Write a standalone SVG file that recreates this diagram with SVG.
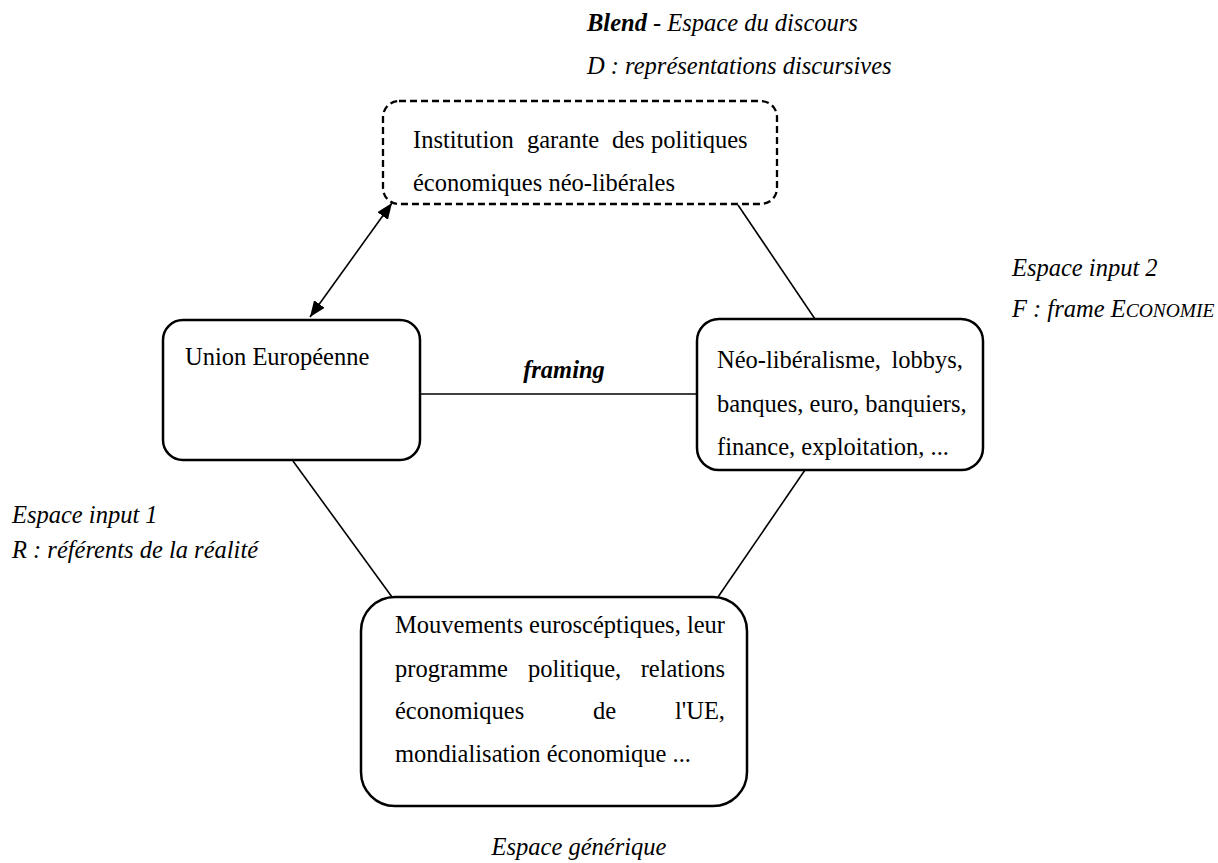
<svg xmlns="http://www.w3.org/2000/svg" width="1218" height="863" viewBox="0 0 1218 863">
  <style>
    text { font-family: "Liberation Serif", "Times New Roman", serif; font-size: 24.5px; fill: #000; }
    .it { font-style: italic; }
    .bi { font-style: italic; font-weight: bold; }
    .box { fill: #fff; stroke: #000; stroke-width: 2.5; }
    .dash { fill: #fff; stroke: #000; stroke-width: 2.3; stroke-dasharray: 7 4; }
    .conn { stroke: #000; stroke-width: 1.6; fill: none; }
  </style>
  <defs>
    <marker id="arr" viewBox="0 0 16 13" refX="16" refY="6.5" markerWidth="16" markerHeight="13" markerUnits="userSpaceOnUse" orient="auto-start-reverse">
      <path d="M0,0 L16,6.5 L0,13 Z" fill="#000"/>
    </marker>
  </defs>
  <rect width="1218" height="863" fill="#fff"/>

  <g id="connectors">
    <line class="conn" x1="738" y1="205" x2="815" y2="319"/>
    <line class="conn" x1="420" y1="394" x2="697" y2="394"/>
    <line class="conn" x1="293" y1="461" x2="392" y2="597"/>
    <line class="conn" x1="805" y1="470" x2="718" y2="597"/>
    <line class="conn" x1="310" y1="317" x2="392" y2="203" marker-start="url(#arr)" marker-end="url(#arr)"/>
    <text class="bi" x="564" y="378" text-anchor="middle">framing</text>
  </g>

  <g id="labels">
    <text x="587" y="31"><tspan class="bi">Blend</tspan><tspan class="it"> - Espace du discours</tspan></text>
    <text class="it" x="587" y="74">D : représentations discursives</text>
    <text class="it" x="1012" y="276">Espace input 2</text>
    <text class="it" x="1012" y="317">F : frame E<tspan font-size="19.5">CONOMIE</tspan></text>
    <text class="it" x="12" y="523">Espace input 1</text>
    <text class="it" x="12" y="558">R : référents de la réalité</text>
    <text class="it" x="579" y="855" text-anchor="middle">Espace générique</text>
  </g>

  <g id="node-blend">
    <rect class="dash" x="383" y="101" width="394" height="103" rx="16"/>
    <text y="148"><tspan x="413">Institution</tspan><tspan x="527">garante</tspan><tspan x="612">des</tspan><tspan x="651">politiques</tspan></text>
    <text x="413" y="191">économiques néo-libérales</text>
  </g>

  <g id="node-input1">
    <rect class="box" x="163" y="320" width="257" height="140" rx="20"/>
    <text x="185" y="365">Union Européenne</text>
  </g>

  <g id="node-input2">
    <rect class="box" x="697" y="319" width="286" height="151" rx="22"/>
    <text y="368"><tspan x="717">Néo-libéralisme,</tspan><tspan x="963" text-anchor="end">lobbys,</tspan></text>
    <text x="717" y="412">banques, euro, banquiers,</text>
    <text x="717" y="455">finance, exploitation, ...</text>
  </g>

  <g id="node-generic">
    <rect class="box" x="361" y="597" width="386" height="209" rx="34"/>
    <text x="395" y="633">Mouvements euroscéptiques, leur</text>
    <text y="677"><tspan x="395">programme</tspan><tspan x="528">politique,</tspan><tspan x="725" text-anchor="end">relations</tspan></text>
    <text y="719"><tspan x="395">économiques</tspan><tspan x="593">de</tspan><tspan x="725" text-anchor="end">l'UE,</tspan></text>
    <text x="395" y="762">mondialisation économique ...</text>
  </g>
</svg>
